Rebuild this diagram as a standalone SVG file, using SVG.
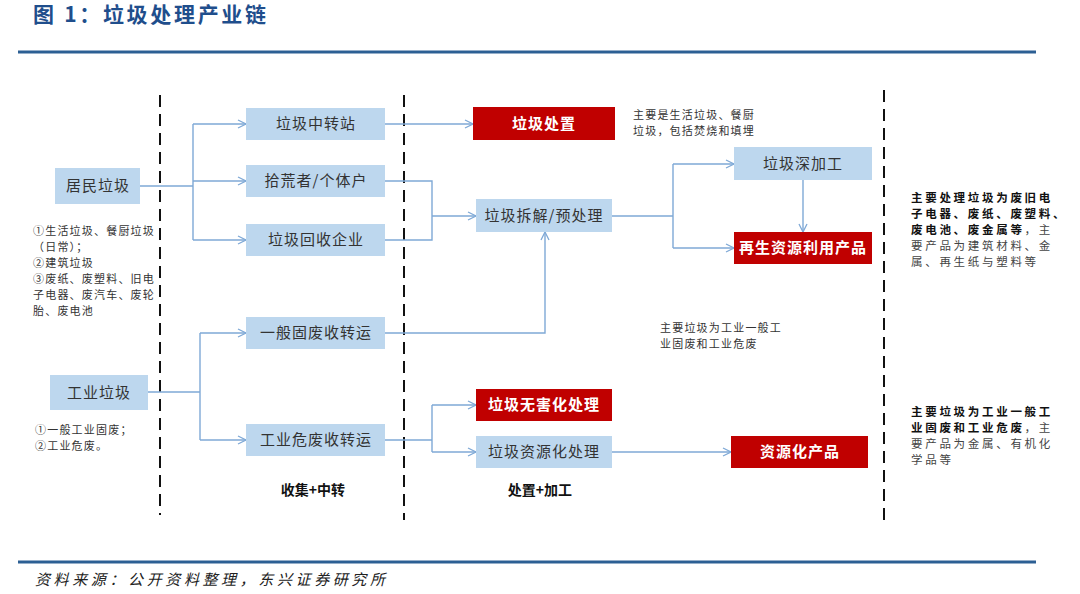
<svg xmlns="http://www.w3.org/2000/svg" width="1080" height="594" viewBox="0 0 1080 594">
<defs>
<marker id="arr" viewBox="0 0 10 10" refX="9" refY="5" markerWidth="10" markerHeight="10" markerUnits="userSpaceOnUse" orient="auto">
<path d="M1,1 L9,5 L1,9" fill="none" stroke="#7fa9d6" stroke-width="1.3"/>
</marker>
<style>
text{font-family:"Noto Sans CJK SC","Noto Sans",sans-serif;}
.blue{fill:#bdd7ee;}
.red{fill:#c00000;}
.nt{font-size:15px;fill:#333;text-anchor:middle;letter-spacing:1px;}
.wt{font-size:15px;fill:#fff;font-weight:bold;text-anchor:middle;letter-spacing:1px;}
.note{font-size:11px;fill:#333;letter-spacing:1.2px;}
.rnote{font-size:11.5px;fill:#444;letter-spacing:2.7px;}
.bold{font-weight:bold;fill:#111;}
.lab{font-size:14px;font-weight:bold;fill:#111;text-anchor:middle;}
.dash{stroke:#111;stroke-width:2;stroke-dasharray:12,7;fill:none;}
.conn path{fill:none;stroke:#7fa9d6;stroke-width:1.4;}
</style>
</defs>
<rect width="1080" height="594" fill="#fff"/>
<text x="33" y="22" font-size="21" font-weight="bold" fill="#1f4e8c" textLength="233" lengthAdjust="spacing">图 1：垃圾处理产业链</text>
<line x1="18" y1="52" x2="1036" y2="52" stroke="#2c5f94" stroke-width="3"/>
<line x1="18" y1="562" x2="1036" y2="562" stroke="#2c5f94" stroke-width="3"/>
<text x="35" y="585" font-size="15" font-style="italic" fill="#222" textLength="350" lengthAdjust="spacing">资料来源：公开资料整理，东兴证券研究所</text>
<g id="dividers">
<line class="dash" x1="160" y1="95" x2="160" y2="515"/>
<line class="dash" x1="404" y1="95" x2="404" y2="520"/>
<line class="dash" x1="884" y1="90" x2="884" y2="520"/>
</g>
<g class="conn" id="connectors">
<path d="M140,186 H193 M193,124 V240 M193,124 H246" marker-end="url(#arr)"/>
<path d="M193,181 H246" marker-end="url(#arr)"/>
<path d="M193,240 H246" marker-end="url(#arr)"/>
<path d="M385,124 H473" marker-end="url(#arr)"/>
<path d="M385,181 H432 V240 H385 M432,216 H476" marker-end="url(#arr)"/>
<path d="M385,333 H545 V232" marker-end="url(#arr)"/>
<path d="M612,216 H673 M673,164 V248 M673,164 H734" marker-end="url(#arr)"/>
<path d="M673,248 H734" marker-end="url(#arr)"/>
<path d="M803,180 V232" marker-end="url(#arr)"/>
<path d="M148,392 H200 M200,333 V440 M200,333 H246" marker-end="url(#arr)"/>
<path d="M200,440 H246" marker-end="url(#arr)"/>
<path d="M385,440 H432 M432,405 V452 M432,405 H476" marker-end="url(#arr)"/>
<path d="M432,452 H476" marker-end="url(#arr)"/>
<path d="M612,452 H731" marker-end="url(#arr)"/>
</g>
<g id="n-jumin"><rect class="blue" x="55" y="168" width="85" height="36"/><text class="nt" x="98" y="191">居民垃圾</text></g>
<g id="n-gongye"><rect class="blue" x="50" y="375" width="98" height="35"/><text class="nt" x="99" y="398">工业垃圾</text></g>
<g id="n-zhongzhuan"><rect class="blue" x="246" y="108" width="139" height="32"/><text class="nt" x="316" y="129">垃圾中转站</text></g>
<g id="n-shihuang"><rect class="blue" x="246" y="165" width="139" height="32"/><text class="nt" x="316" y="186">拾荒者/个体户</text></g>
<g id="n-huishou"><rect class="blue" x="246" y="224" width="139" height="32"/><text class="nt" x="316" y="245">垃圾回收企业</text></g>
<g id="n-yiban"><rect class="blue" x="246" y="317" width="139" height="32"/><text class="nt" x="316" y="338">一般固废收转运</text></g>
<g id="n-weifei"><rect class="blue" x="246" y="424" width="139" height="32"/><text class="nt" x="316" y="445">工业危废收转运</text></g>
<g id="n-chuzhi"><rect class="red" x="473" y="107" width="142" height="33"/><text class="wt" x="544" y="129">垃圾处置</text></g>
<g id="n-chaijie"><rect class="blue" x="476" y="199" width="136" height="33"/><text class="nt" x="544" y="221">垃圾拆解/预处理</text></g>
<g id="n-shenjiagong"><rect class="blue" x="734" y="147" width="138" height="33"/><text class="nt" x="803" y="169">垃圾深加工</text></g>
<g id="n-zaisheng"><rect class="red" x="734" y="232" width="138" height="32"/><text class="wt" x="803" y="253">再生资源利用产品</text></g>
<g id="n-wuhai"><rect class="red" x="476" y="389" width="136" height="32"/><text class="wt" x="544" y="410">垃圾无害化处理</text></g>
<g id="n-ziyuanhua"><rect class="blue" x="476" y="436" width="136" height="32"/><text class="nt" x="544" y="457">垃圾资源化处理</text></g>
<g id="n-chanpin"><rect class="red" x="731" y="436" width="137" height="32"/><text class="wt" x="800" y="457">资源化产品</text></g>
<text class="lab" x="313" y="495">收集+中转</text>
<text class="lab" x="540" y="495">处置+加工</text>
<g id="notes">
<text class="note" x="33" y="235">①生活垃圾、餐厨垃圾</text>
<text class="note" x="33" y="251">（日常）；</text>
<text class="note" x="33" y="267">②建筑垃圾</text>
<text class="note" x="33" y="283">③废纸、废塑料、旧电</text>
<text class="note" x="33" y="299">子电器、废汽车、废轮</text>
<text class="note" x="33" y="315">胎、废电池</text>
<text class="note" x="35" y="434">①一般工业固废；</text>
<text class="note" x="35" y="450">②工业危废。</text>
<text class="note" x="633" y="119">主要是生活垃圾、餐厨</text>
<text class="note" x="633" y="135">垃圾，包括焚烧和填埋</text>
<text class="note" x="660" y="332">主要垃圾为工业一般工</text>
<text class="note" x="660" y="348">业固废和工业危废</text>
<text class="rnote" x="911" y="202"><tspan class="bold">主要处理垃圾为废旧电</tspan></text>
<text class="rnote" x="911" y="218"><tspan class="bold">子电器、废纸、废塑料、</tspan></text>
<text class="rnote" x="911" y="234"><tspan class="bold">废电池、废金属等</tspan>，主</text>
<text class="rnote" x="911" y="250">要产品为建筑材料、金</text>
<text class="rnote" x="911" y="266">属、再生纸与塑料等</text>
<text class="rnote" x="911" y="416"><tspan class="bold">主要垃圾为工业一般工</tspan></text>
<text class="rnote" x="911" y="432"><tspan class="bold">业固废和工业危废</tspan>，主</text>
<text class="rnote" x="911" y="448">要产品为金属、有机化</text>
<text class="rnote" x="911" y="464">学品等</text>
</g>
</svg>
